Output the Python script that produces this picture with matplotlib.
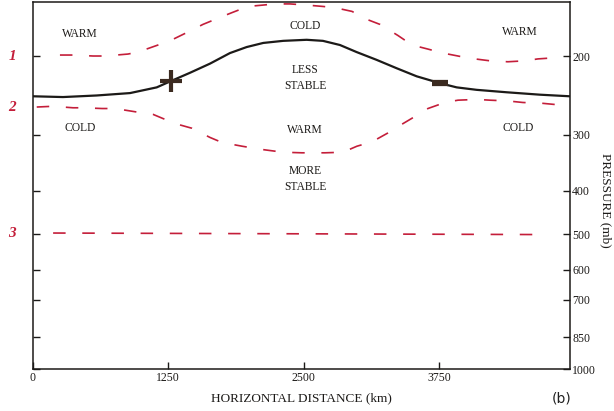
import matplotlib
matplotlib.use("Agg")
import matplotlib.pyplot as plt
import matplotlib.transforms as mtransforms

plt.rcParams['font.family'] = ['Liberation Serif', 'DejaVu Serif']

# tropopause (solid black)
trop_km = [0, 281, 592, 899, 1145, 1267, 1452, 1636, 1820, 1974, 2127, 2311,
           2527, 2677, 2834, 2988, 3172, 3357, 3541, 3756, 3910, 4094, 4371, 4677, 4950]
trop_mb = [246, 247, 245, 242, 235, 228, 218, 208, 197, 191, 187, 185,
           184, 185, 189, 196, 204, 213, 222, 230, 235, 238, 241, 244, 246]

# isentrope 1 (upper dashed)
th1_km = [253, 373, 558, 668, 880, 972, 1157, 1286, 1470, 1571, 1728, 1839, 1986,
          2115, 2235, 2373, 2539, 2677, 2788, 2945, 3092, 3203, 3369, 3498, 3645,
          3783, 3968, 4078, 4217, 4382, 4539, 4659, 4788, 4880]
th1_mb = [199, 199, 200, 200, 198, 196, 189, 184, 175, 170, 164, 160, 155,
          154, 153, 153, 154, 155, 156, 159, 166, 170, 180, 189, 193,
          197, 201, 203, 205, 206, 205, 203, 202, 201]

# isentrope 2 (lower dashed)
th2_km = [39, 189, 373, 465, 641, 760, 972, 1111, 1313, 1470, 1636, 1747, 1931,
          2097, 2309, 2484, 2696, 2862, 2991, 3129, 3277, 3406, 3525, 3645, 3802,
          3922, 4097, 4217, 4382, 4521, 4696, 4843]
th2_mb = [260, 259, 261, 261, 262, 262, 267, 270, 283, 290, 304, 312, 318,
          323, 328, 329, 329, 328, 318, 311, 297, 284, 273, 262, 254,
          251, 250, 251, 252, 254, 255, 257]

# isentrope 3 (500 mb)
th3_km = [190, 2500, 4750]
th3_mb = [497, 499, 501]

p_ticks = [200, 300, 400, 500, 600, 700, 850, 1000]
x_ticks = [0, 1250, 2500, 3750]

regions = [("WARM", 438, 179), ("COLD", 2512, 171), ("WARM", 4493, 177),
           ("LESS\nSTABLE", 2512, 224),
           ("COLD", 438, 290), ("WARM", 2512, 293), ("COLD", 4475, 290),
           ("MORE\nSTABLE", 2512, 376)]
line_tags = [("1", 200), ("2", 260), ("3", 498)]
plus_pt = (1274, 228)
minus_pt = (3756, 230)

red = '#c41e3a'
ink = '#1c1a18'

fig = plt.figure(figsize=(6.14, 4.11), dpi=100)
ax = fig.add_axes([32.5/614, 1-369/411, 537/614, 367/411])

ax.plot(trop_km, trop_mb, color=ink, lw=1.6, solid_capstyle='round')
for xs, ps in [(th1_km, th1_mb), (th2_km, th2_mb), (th3_km, th3_mb)]:
    ax.plot(xs, ps, color=red, lw=1.2, dashes=(7.5, 10))

ax.plot(*plus_pt, marker='+', ms=16, mew=3, color='#3b2a20')
ax.plot(*minus_pt, marker='_', ms=12, mew=4.5, color='#3b2a20')

for txt, x, p in regions:
    ax.text(x, p, txt, ha='center', va='center', fontsize=8.3,
            color=ink, linespacing=1.45)

trans = mtransforms.blended_transform_factory(ax.transAxes, ax.transData)
for tag, p in line_tags:
    ax.text(-0.038, p, tag, transform=trans, ha='center', va='center',
            fontsize=11, fontweight='bold', fontstyle='italic', color=red)

ax.set_yscale('log')
ax.set_ylim(1000, 151.5)
ax.set_xlim(0, 4950)
ax.set_yticks(p_ticks)
ax.set_yticklabels([str(p) for p in p_ticks])
ax.minorticks_off()
ax.set_xticks(x_ticks)
ax.set_xticklabels([str(x) for x in x_ticks])

ax.yaxis.tick_right()
ax.tick_params(axis='y', which='both', left=True, right=True, labelleft=False,
               labelright=True, direction='in', length=5, width=1, pad=2,
               labelsize=8.5, colors=ink)
ax.tick_params(axis='x', top=False, bottom=True, direction='in', length=5,
               width=1, pad=2, labelsize=8.5, colors=ink)
for s in ax.spines.values():
    s.set_linewidth(1.1)
    s.set_color(ink)

ax.set_xlabel("HORIZONTAL DISTANCE (km)", fontsize=9.5, color=ink, labelpad=6)
fig.text(606/614, 1-200/411, "PRESSURE (mb)", rotation=270, ha='center',
         va='center', fontsize=9.5, color=ink)
fig.text(562/614, 1-398/411, "(b)", family='DejaVu Sans', ha='center',
         va='center', fontsize=10, color='#222222')

fig.savefig("out.png", dpi=100)
